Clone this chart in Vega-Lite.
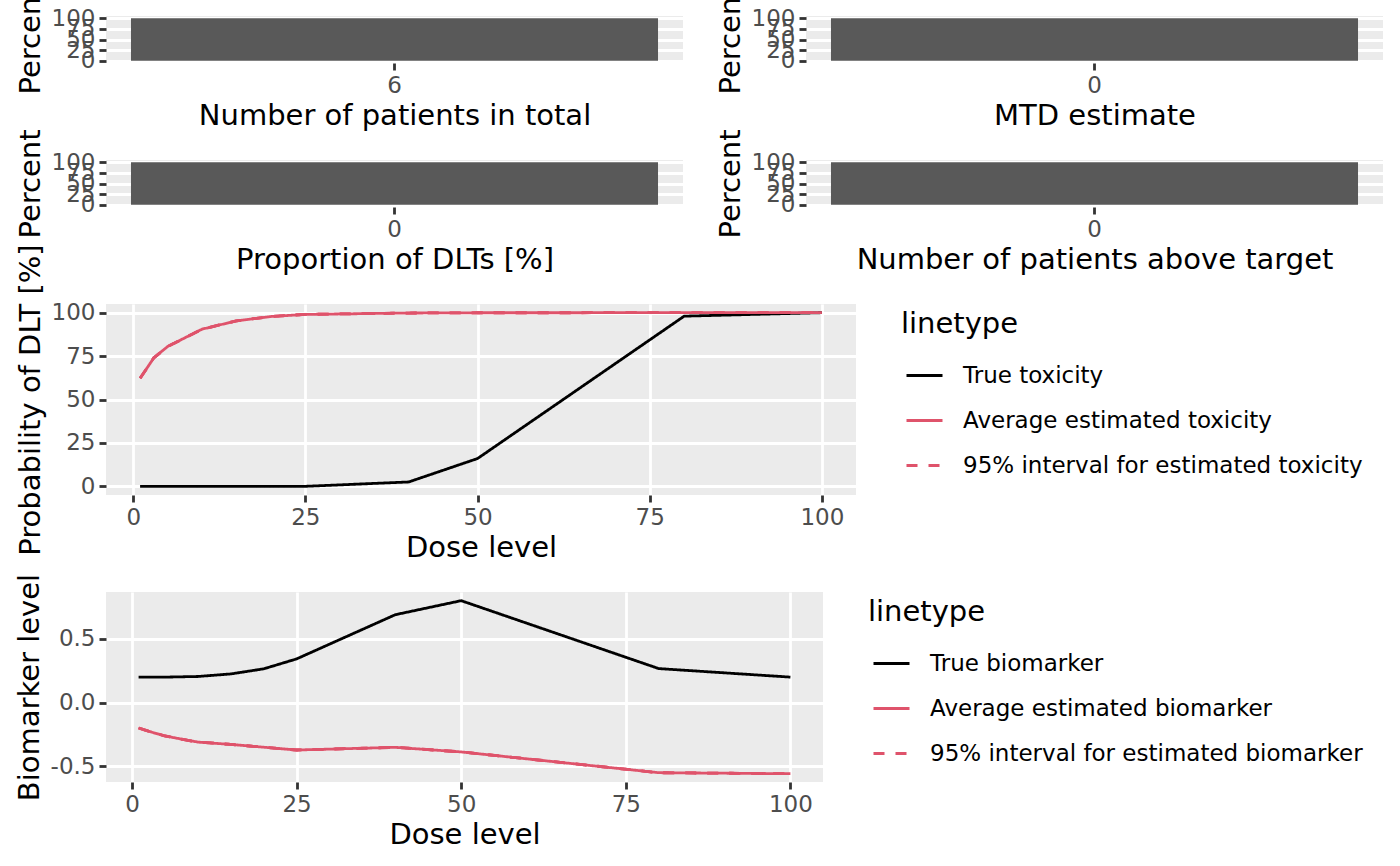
{
  "$schema": "https://vega.github.io/schema/vega-lite/v6.json",
  "background": "white",
  "padding": {"left": 15, "top": -16, "right": 0, "bottom": 0},
  "bounds": "flush",
  "spacing": 144,
  "resolve": {"scale": {"color": "independent", "strokeDash": "independent"}},
  "datasets": {
    "tox": [
      {"dose": 1, "prob": 0, "series": "True toxicity", "line": "true"},
      {"dose": 3, "prob": 0, "series": "True toxicity", "line": "true"},
      {"dose": 5, "prob": 0, "series": "True toxicity", "line": "true"},
      {"dose": 10, "prob": 0, "series": "True toxicity", "line": "true"},
      {"dose": 15, "prob": 0, "series": "True toxicity", "line": "true"},
      {"dose": 20, "prob": 0, "series": "True toxicity", "line": "true"},
      {"dose": 25, "prob": 0, "series": "True toxicity", "line": "true"},
      {"dose": 40, "prob": 2.5, "series": "True toxicity", "line": "true"},
      {"dose": 50, "prob": 16, "series": "True toxicity", "line": "true"},
      {"dose": 80, "prob": 98, "series": "True toxicity", "line": "true"},
      {"dose": 100, "prob": 100, "series": "True toxicity", "line": "true"},
      {"dose": 1, "prob": 62.2, "series": "Average estimated toxicity", "line": "avg"},
      {"dose": 3, "prob": 74, "series": "Average estimated toxicity", "line": "avg"},
      {"dose": 5, "prob": 80.5, "series": "Average estimated toxicity", "line": "avg"},
      {"dose": 10, "prob": 90.5, "series": "Average estimated toxicity", "line": "avg"},
      {"dose": 15, "prob": 95.3, "series": "Average estimated toxicity", "line": "avg"},
      {"dose": 20, "prob": 97.8, "series": "Average estimated toxicity", "line": "avg"},
      {"dose": 25, "prob": 99, "series": "Average estimated toxicity", "line": "avg"},
      {"dose": 40, "prob": 99.8, "series": "Average estimated toxicity", "line": "avg"},
      {"dose": 50, "prob": 99.95, "series": "Average estimated toxicity", "line": "avg"},
      {"dose": 80, "prob": 100, "series": "Average estimated toxicity", "line": "avg"},
      {"dose": 100, "prob": 100, "series": "Average estimated toxicity", "line": "avg"},
      {"dose": 1, "prob": 62.2, "series": "95% interval for estimated toxicity", "line": "lower"},
      {"dose": 3, "prob": 74, "series": "95% interval for estimated toxicity", "line": "lower"},
      {"dose": 5, "prob": 80.5, "series": "95% interval for estimated toxicity", "line": "lower"},
      {"dose": 10, "prob": 90.5, "series": "95% interval for estimated toxicity", "line": "lower"},
      {"dose": 15, "prob": 95.3, "series": "95% interval for estimated toxicity", "line": "lower"},
      {"dose": 20, "prob": 97.8, "series": "95% interval for estimated toxicity", "line": "lower"},
      {"dose": 25, "prob": 99, "series": "95% interval for estimated toxicity", "line": "lower"},
      {"dose": 40, "prob": 99.8, "series": "95% interval for estimated toxicity", "line": "lower"},
      {"dose": 50, "prob": 99.95, "series": "95% interval for estimated toxicity", "line": "lower"},
      {"dose": 80, "prob": 100, "series": "95% interval for estimated toxicity", "line": "lower"},
      {"dose": 100, "prob": 100, "series": "95% interval for estimated toxicity", "line": "lower"},
      {"dose": 1, "prob": 62.2, "series": "95% interval for estimated toxicity", "line": "upper"},
      {"dose": 3, "prob": 74, "series": "95% interval for estimated toxicity", "line": "upper"},
      {"dose": 5, "prob": 80.5, "series": "95% interval for estimated toxicity", "line": "upper"},
      {"dose": 10, "prob": 90.5, "series": "95% interval for estimated toxicity", "line": "upper"},
      {"dose": 15, "prob": 95.3, "series": "95% interval for estimated toxicity", "line": "upper"},
      {"dose": 20, "prob": 97.8, "series": "95% interval for estimated toxicity", "line": "upper"},
      {"dose": 25, "prob": 99, "series": "95% interval for estimated toxicity", "line": "upper"},
      {"dose": 40, "prob": 99.8, "series": "95% interval for estimated toxicity", "line": "upper"},
      {"dose": 50, "prob": 99.95, "series": "95% interval for estimated toxicity", "line": "upper"},
      {"dose": 80, "prob": 100, "series": "95% interval for estimated toxicity", "line": "upper"},
      {"dose": 100, "prob": 100, "series": "95% interval for estimated toxicity", "line": "upper"}
    ],
    "bio": [
      {"dose": 1, "level": 0.2, "series": "True biomarker", "line": "true"},
      {"dose": 3, "level": 0.2, "series": "True biomarker", "line": "true"},
      {"dose": 5, "level": 0.2, "series": "True biomarker", "line": "true"},
      {"dose": 10, "level": 0.205, "series": "True biomarker", "line": "true"},
      {"dose": 15, "level": 0.225, "series": "True biomarker", "line": "true"},
      {"dose": 20, "level": 0.265, "series": "True biomarker", "line": "true"},
      {"dose": 25, "level": 0.343, "series": "True biomarker", "line": "true"},
      {"dose": 40, "level": 0.69, "series": "True biomarker", "line": "true"},
      {"dose": 50, "level": 0.8, "series": "True biomarker", "line": "true"},
      {"dose": 80, "level": 0.267, "series": "True biomarker", "line": "true"},
      {"dose": 100, "level": 0.2, "series": "True biomarker", "line": "true"},
      {"dose": 1, "level": -0.199, "series": "Average estimated biomarker", "line": "avg"},
      {"dose": 3, "level": -0.232, "series": "Average estimated biomarker", "line": "avg"},
      {"dose": 5, "level": -0.262, "series": "Average estimated biomarker", "line": "avg"},
      {"dose": 10, "level": -0.31, "series": "Average estimated biomarker", "line": "avg"},
      {"dose": 15, "level": -0.328, "series": "Average estimated biomarker", "line": "avg"},
      {"dose": 20, "level": -0.35, "series": "Average estimated biomarker", "line": "avg"},
      {"dose": 25, "level": -0.372, "series": "Average estimated biomarker", "line": "avg"},
      {"dose": 40, "level": -0.351, "series": "Average estimated biomarker", "line": "avg"},
      {"dose": 50, "level": -0.387, "series": "Average estimated biomarker", "line": "avg"},
      {"dose": 80, "level": -0.55, "series": "Average estimated biomarker", "line": "avg"},
      {"dose": 100, "level": -0.558, "series": "Average estimated biomarker", "line": "avg"},
      {"dose": 1, "level": -0.199, "series": "95% interval for estimated biomarker", "line": "lower"},
      {"dose": 3, "level": -0.232, "series": "95% interval for estimated biomarker", "line": "lower"},
      {"dose": 5, "level": -0.262, "series": "95% interval for estimated biomarker", "line": "lower"},
      {"dose": 10, "level": -0.31, "series": "95% interval for estimated biomarker", "line": "lower"},
      {"dose": 15, "level": -0.328, "series": "95% interval for estimated biomarker", "line": "lower"},
      {"dose": 20, "level": -0.35, "series": "95% interval for estimated biomarker", "line": "lower"},
      {"dose": 25, "level": -0.372, "series": "95% interval for estimated biomarker", "line": "lower"},
      {"dose": 40, "level": -0.351, "series": "95% interval for estimated biomarker", "line": "lower"},
      {"dose": 50, "level": -0.387, "series": "95% interval for estimated biomarker", "line": "lower"},
      {"dose": 80, "level": -0.55, "series": "95% interval for estimated biomarker", "line": "lower"},
      {"dose": 100, "level": -0.558, "series": "95% interval for estimated biomarker", "line": "lower"},
      {"dose": 1, "level": -0.199, "series": "95% interval for estimated biomarker", "line": "upper"},
      {"dose": 3, "level": -0.232, "series": "95% interval for estimated biomarker", "line": "upper"},
      {"dose": 5, "level": -0.262, "series": "95% interval for estimated biomarker", "line": "upper"},
      {"dose": 10, "level": -0.31, "series": "95% interval for estimated biomarker", "line": "upper"},
      {"dose": 15, "level": -0.328, "series": "95% interval for estimated biomarker", "line": "upper"},
      {"dose": 20, "level": -0.35, "series": "95% interval for estimated biomarker", "line": "upper"},
      {"dose": 25, "level": -0.372, "series": "95% interval for estimated biomarker", "line": "upper"},
      {"dose": 40, "level": -0.351, "series": "95% interval for estimated biomarker", "line": "upper"},
      {"dose": 50, "level": -0.387, "series": "95% interval for estimated biomarker", "line": "upper"},
      {"dose": 80, "level": -0.55, "series": "95% interval for estimated biomarker", "line": "upper"},
      {"dose": 100, "level": -0.558, "series": "95% interval for estimated biomarker", "line": "upper"}
    ]
  },
  "vconcat": [
    {
      "bounds": "flush",
      "spacing": 123,
      "hconcat": [
        {
          "width": 577, "height": 47,
          "data": {"values": [{"value": "6", "percent": 100}]},
          "encoding": {
            "x": {"field": "value", "type": "nominal", "scale": {"paddingInner": 0, "paddingOuter": 0.0474}, "axis": {"title": "Number of patients in total", "labelAngle": 0, "grid": false}}
          },
          "layer": [
            {"mark": {"type": "bar", "color": "#595959"},
             "encoding": {"y": {"field": "percent", "type": "quantitative", "scale": {"domain": [-5, 105], "nice": false, "zero": false}, "axis": {"title": "Percent", "values": [0, 25, 50, 75, 100], "labelOverlap": false}}, "y2": {"datum": 0}}},
            {"mark": {"type": "bar", "opacity": 0},
             "encoding": {"y": {"field": "percent", "type": "quantitative", "axis": {"title": null, "values": [12.5, 37.5, 62.5, 87.5], "labels": false, "ticks": false, "domain": false, "gridWidth": 1.4}}, "y2": {"datum": 0}}}
          ],
          "resolve": {"axis": {"y": "independent"}}
        },
        {
          "width": 577, "height": 47,
          "data": {"values": [{"value": "0", "percent": 100}]},
          "encoding": {
            "x": {"field": "value", "type": "nominal", "scale": {"paddingInner": 0, "paddingOuter": 0.0474}, "axis": {"title": "MTD estimate", "labelAngle": 0, "grid": false}}
          },
          "layer": [
            {"mark": {"type": "bar", "color": "#595959"},
             "encoding": {"y": {"field": "percent", "type": "quantitative", "scale": {"domain": [-5, 105], "nice": false, "zero": false}, "axis": {"title": "Percent", "values": [0, 25, 50, 75, 100], "labelOverlap": false}}, "y2": {"datum": 0}}},
            {"mark": {"type": "bar", "opacity": 0},
             "encoding": {"y": {"field": "percent", "type": "quantitative", "axis": {"title": null, "values": [12.5, 37.5, 62.5, 87.5], "labels": false, "ticks": false, "domain": false, "gridWidth": 1.4}}, "y2": {"datum": 0}}}
          ],
          "resolve": {"axis": {"y": "independent"}}
        }
      ]
    },
    {
      "bounds": "flush",
      "spacing": 123,
      "hconcat": [
        {
          "width": 577, "height": 47,
          "data": {"values": [{"value": "0", "percent": 100}]},
          "encoding": {
            "x": {"field": "value", "type": "nominal", "scale": {"paddingInner": 0, "paddingOuter": 0.0474}, "axis": {"title": "Proportion of DLTs [%]", "labelAngle": 0, "grid": false}}
          },
          "layer": [
            {"mark": {"type": "bar", "color": "#595959"},
             "encoding": {"y": {"field": "percent", "type": "quantitative", "scale": {"domain": [-5, 105], "nice": false, "zero": false}, "axis": {"title": "Percent", "values": [0, 25, 50, 75, 100], "labelOverlap": false}}, "y2": {"datum": 0}}},
            {"mark": {"type": "bar", "opacity": 0},
             "encoding": {"y": {"field": "percent", "type": "quantitative", "axis": {"title": null, "values": [12.5, 37.5, 62.5, 87.5], "labels": false, "ticks": false, "domain": false, "gridWidth": 1.4}}, "y2": {"datum": 0}}}
          ],
          "resolve": {"axis": {"y": "independent"}}
        },
        {
          "width": 577, "height": 47,
          "data": {"values": [{"value": "0", "percent": 100}]},
          "encoding": {
            "x": {"field": "value", "type": "nominal", "scale": {"paddingInner": 0, "paddingOuter": 0.0474}, "axis": {"title": "Number of patients above target", "labelAngle": 0, "grid": false}}
          },
          "layer": [
            {"mark": {"type": "bar", "color": "#595959"},
             "encoding": {"y": {"field": "percent", "type": "quantitative", "scale": {"domain": [-5, 105], "nice": false, "zero": false}, "axis": {"title": "Percent", "values": [0, 25, 50, 75, 100], "labelOverlap": false}}, "y2": {"datum": 0}}},
            {"mark": {"type": "bar", "opacity": 0},
             "encoding": {"y": {"field": "percent", "type": "quantitative", "axis": {"title": null, "values": [12.5, 37.5, 62.5, 87.5], "labels": false, "ticks": false, "domain": false, "gridWidth": 1.4}}, "y2": {"datum": 0}}}
          ],
          "resolve": {"axis": {"y": "independent"}}
        }
      ]
    },
    {
      "bounds": "flush",
      "spacing": 97,
      "resolve": {"scale": {"color": "independent", "strokeDash": "independent"}},
      "vconcat": [
        {
          "width": 750, "height": 191,
          "data": {"name": "tox"},
          "layer": [
            {"mark": {"type": "line", "strokeWidth": 2.8},
             "encoding": {
               "x": {"field": "dose", "type": "quantitative", "scale": {"domain": [-3.95, 104.95], "nice": false, "zero": false}, "axis": {"title": "Dose level", "values": [0, 25, 50, 75, 100], "labelFlush": false}},
               "y": {"field": "prob", "type": "quantitative", "scale": {"domain": [-5, 105], "nice": false, "zero": false}, "axis": {"title": "Probability of DLT [%]", "values": [0, 25, 50, 75, 100]}},
               "color": {"field": "series", "type": "nominal", "sort": null, "scale": {"domain": ["True toxicity", "Average estimated toxicity", "95% interval for estimated toxicity"], "range": ["#000000", "#DF536B", "#DF536B"]}, "legend": {"title": "linetype", "orient": "right", "offset": 39}},
               "strokeDash": {"field": "series", "type": "nominal", "sort": null, "scale": {"domain": ["True toxicity", "Average estimated toxicity", "95% interval for estimated toxicity"], "range": [[1, 0], [1, 0], [11, 11]]}, "legend": {"title": "linetype", "orient": "right", "offset": 39}},
               "detail": {"field": "line", "type": "nominal"},
               "order": {"field": "dose", "type": "quantitative"}
             }},
            {"mark": {"type": "line", "opacity": 0},
             "encoding": {
               "x": {"field": "dose", "type": "quantitative", "axis": {"title": null, "values": [12.5, 37.5, 62.5, 87.5], "labels": false, "ticks": false, "domain": false, "gridWidth": 1.4}},
               "y": {"field": "prob", "type": "quantitative", "axis": {"title": null, "values": [12.5, 37.5, 62.5, 87.5], "labels": false, "ticks": false, "domain": false, "gridWidth": 1.4}},
               "detail": {"field": "line", "type": "nominal"}
             }}
          ],
          "resolve": {"axis": {"x": "independent", "y": "independent"}}
        },
        {
          "width": 717, "height": 190,
          "data": {"name": "bio"},
          "layer": [
            {"mark": {"type": "line", "strokeWidth": 2.8},
             "encoding": {
               "x": {"field": "dose", "type": "quantitative", "scale": {"domain": [-3.95, 104.95], "nice": false, "zero": false}, "axis": {"title": "Dose level", "values": [0, 25, 50, 75, 100], "labelFlush": false}},
               "y": {"field": "level", "type": "quantitative", "scale": {"domain": [-0.623, 0.868], "nice": false, "zero": false}, "axis": {"title": "Biomarker level", "values": [-0.5, 0, 0.5], "labelExpr": "datum.value < 0 ? '-' + format(-datum.value, '.1f') : format(datum.value, '.1f')"}},
               "color": {"field": "series", "type": "nominal", "sort": null, "scale": {"domain": ["True biomarker", "Average estimated biomarker", "95% interval for estimated biomarker"], "range": ["#000000", "#DF536B", "#DF536B"]}, "legend": {"title": "linetype", "orient": "right", "offset": 39}},
               "strokeDash": {"field": "series", "type": "nominal", "sort": null, "scale": {"domain": ["True biomarker", "Average estimated biomarker", "95% interval for estimated biomarker"], "range": [[1, 0], [1, 0], [11, 11]]}, "legend": {"title": "linetype", "orient": "right", "offset": 39}},
               "detail": {"field": "line", "type": "nominal"},
               "order": {"field": "dose", "type": "quantitative"}
             }},
            {"mark": {"type": "line", "opacity": 0},
             "encoding": {
               "x": {"field": "dose", "type": "quantitative", "axis": {"title": null, "values": [12.5, 37.5, 62.5, 87.5], "labels": false, "ticks": false, "domain": false, "gridWidth": 1.4}},
               "y": {"field": "level", "type": "quantitative", "axis": {"title": null, "values": [-0.25, 0.25, 0.75], "labels": false, "ticks": false, "domain": false, "gridWidth": 1.4}},
               "detail": {"field": "line", "type": "nominal"}
             }}
          ],
          "resolve": {"axis": {"x": "independent", "y": "independent"}}
        }
      ]
    }
  ],
  "config": {
    "font": "DejaVu Sans",
    "view": {"fill": "#EBEBEB", "stroke": null},
    "axis": {
      "domain": false,
      "grid": true,
      "gridColor": "#FFFFFF",
      "gridWidth": 2.8,
      "gridOpacity": 1,
      "tickColor": "#333333",
      "tickWidth": 2.8,
      "tickSize": 7,
      "labelColor": "#4D4D4D",
      "labelFont": "DejaVu Sans",
      "labelFontSize": 23,
      "labelPadding": 4,
      "titleFont": "DejaVu Sans",
      "titleFontSize": 29,
      "titleFontWeight": "normal",
      "titleColor": "#000000",
      "titlePadding": 6
    },
    "axisX": {"titlePadding": 4},
    "legend": {
      "padding": 6,
      "titleFont": "DejaVu Sans",
      "titleFontSize": 29,
      "titleFontWeight": "normal",
      "titleColor": "#000000",
      "titlePadding": 17,
      "labelFont": "DejaVu Sans",
      "labelFontSize": 23,
      "labelColor": "#000000",
      "labelLimit": 0,
      "symbolType": "stroke",
      "symbolSize": 1296,
      "symbolStrokeWidth": 2.8,
      "symbolOffset": 4,
      "labelOffset": 19,
      "rowPadding": 13
    }
  }
}
